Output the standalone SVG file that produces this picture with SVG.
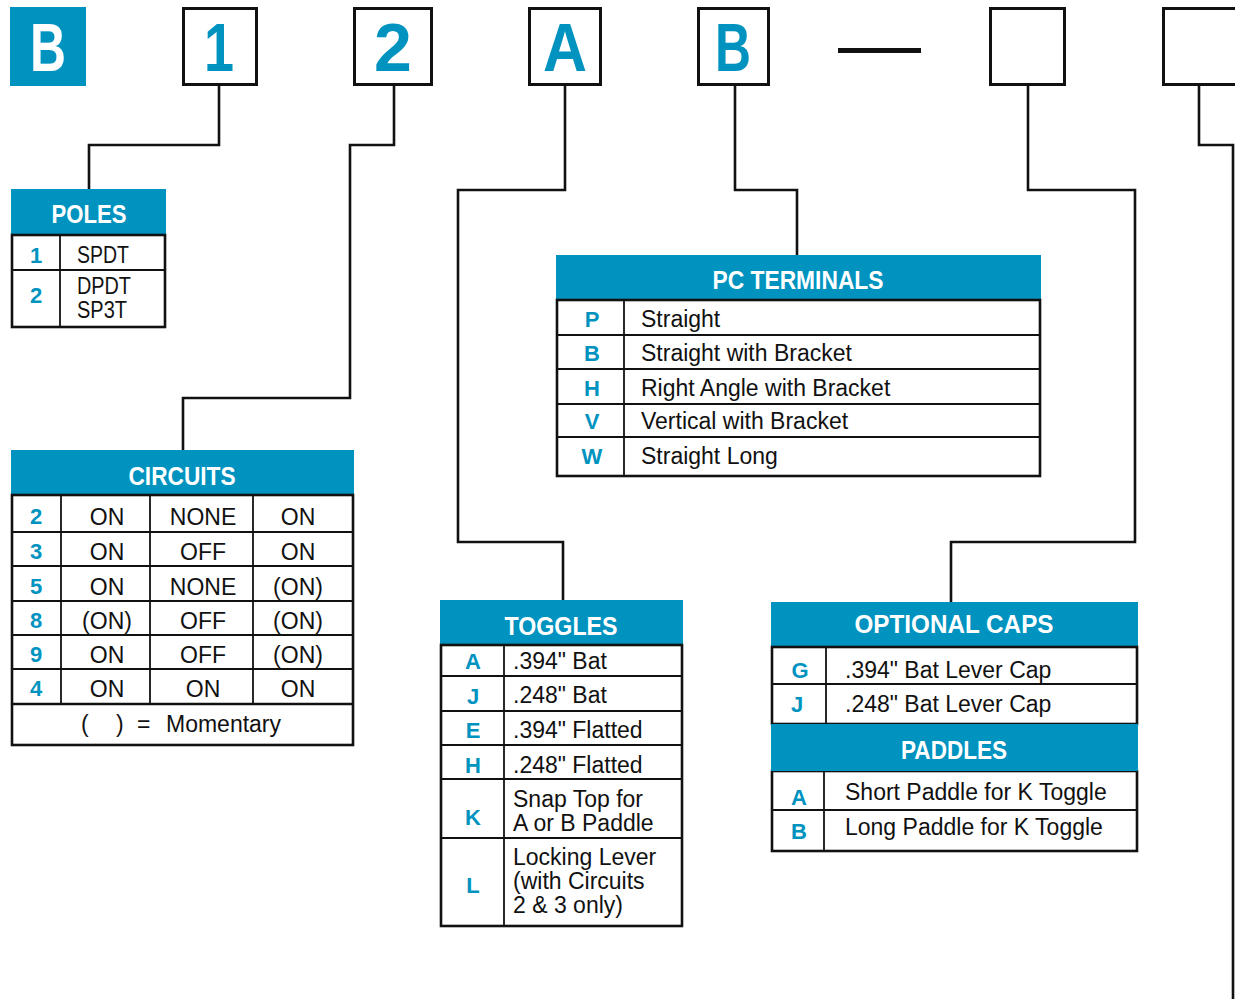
<svg xmlns="http://www.w3.org/2000/svg" width="1235" height="999" viewBox="0 0 1235 999">
<style>
.hdr{fill:#0093c0}
.ht{font-family:"Liberation Sans",Arial,sans-serif;font-weight:bold;font-size:26px;fill:#fff;text-anchor:middle}
.k{font-family:"Liberation Sans",Arial,sans-serif;font-weight:bold;font-size:22px;fill:#0093c0;text-anchor:middle}
.t{font-family:"Liberation Sans",Arial,sans-serif;font-size:23px;fill:#111}
.c{text-anchor:middle}
.body{fill:#fff;stroke:#111;stroke-width:2.6}
.ln{stroke:#111;stroke-width:1.8;fill:none}
.conn{fill:none;stroke:#111;stroke-width:2.6}
.sq{fill:#fff;stroke:#111;stroke-width:3}
.big{font-family:"Liberation Sans",Arial,sans-serif;font-weight:bold;font-size:68px;fill:#0093c0;text-anchor:middle}
</style>
<rect width="1235" height="999" fill="#fff"/>

<g id="connectors">
<path class="conn" d="M219,86 V145 H89 V189"/>
<path class="conn" d="M394,86 V145 H350 V398 H183 V450"/>
<path class="conn" d="M565,86 V190 H458 V542 H563 V600"/>
<path class="conn" d="M735,86 V190 H797 V255"/>
<path class="conn" d="M1028,86 V190 H1135 V542 H951 V602"/>
<path class="conn" d="M1199,86 V145 H1233 V999"/>
</g>

<g id="code-B">
<rect x="10" y="7" width="76" height="79" fill="#0093c0"/>
<text class="big" x="48" y="71" fill="#fff" style="fill:#fff" textLength="36" lengthAdjust="spacingAndGlyphs">B</text>
</g>
<g id="code-1">
<rect class="sq" x="183.5" y="8.5" width="73" height="76"/>
<text class="big" x="219" y="71" textLength="30" lengthAdjust="spacingAndGlyphs">1</text>
</g>
<g id="code-2">
<rect class="sq" x="354.5" y="8.5" width="77" height="76"/>
<text class="big" x="393" y="71">2</text>
</g>
<g id="code-A">
<rect class="sq" x="529.5" y="8.5" width="71" height="76"/>
<text class="big" x="565" y="71" textLength="44" lengthAdjust="spacingAndGlyphs">A</text>
</g>
<g id="code-B2">
<rect class="sq" x="698.5" y="8.5" width="70" height="76"/>
<text class="big" x="733" y="71" textLength="36" lengthAdjust="spacingAndGlyphs">B</text>
</g>
<g id="dash">
<rect x="838" y="48" width="83" height="5" fill="#111"/>
</g>
<g id="code-empty1">
<rect class="sq" x="990.5" y="8.5" width="74" height="76"/>
</g>
<g id="code-empty2">
<rect class="sq" x="1163.5" y="8.5" width="80" height="76"/>
</g>

<g id="poles">
<rect class="hdr" x="11" y="189" width="155" height="46"/>
<text class="ht" x="89" y="223" textLength="75" lengthAdjust="spacingAndGlyphs">POLES</text>
<rect class="body" x="12" y="235" width="153" height="92"/>
<line class="ln" x1="60" y1="235" x2="60" y2="327"/>
<line class="ln" x1="12" y1="270" x2="165" y2="270"/>
<text class="k" x="36" y="263">1</text>
<text class="k" x="36" y="303">2</text>
<text class="t" x="77" y="263" textLength="52" lengthAdjust="spacingAndGlyphs">SPDT</text>
<text class="t" x="77" y="294" textLength="54" lengthAdjust="spacingAndGlyphs">DPDT</text>
<text class="t" x="77" y="318" textLength="50" lengthAdjust="spacingAndGlyphs">SP3T</text>
</g>

<g id="circuits">
<rect class="hdr" x="11" y="450" width="343" height="46"/>
<text class="ht" x="182" y="485" textLength="107" lengthAdjust="spacingAndGlyphs">CIRCUITS</text>
<rect class="body" x="12" y="495" width="341" height="250"/>
<g class="ln">
<line x1="61" y1="495" x2="61" y2="703"/>
<line x1="150" y1="495" x2="150" y2="703"/>
<line x1="253" y1="495" x2="253" y2="703"/>
<line x1="12" y1="532" x2="353" y2="532"/>
<line x1="12" y1="566" x2="353" y2="566"/>
<line x1="12" y1="601" x2="353" y2="601"/>
<line x1="12" y1="635" x2="353" y2="635"/>
<line x1="12" y1="669" x2="353" y2="669"/>
</g>
<line x1="12" y1="704" x2="353" y2="704" stroke="#111" stroke-width="2.6"/>
<text class="k" x="36" y="524">2</text>
<text class="k" x="36" y="559">3</text>
<text class="k" x="36" y="594">5</text>
<text class="k" x="36" y="628">8</text>
<text class="k" x="36" y="662">9</text>
<text class="k" x="36" y="696">4</text>
<g class="t c">
<text x="107" y="525">ON</text><text x="203" y="525">NONE</text><text x="298" y="525">ON</text>
<text x="107" y="560">ON</text><text x="203" y="560">OFF</text><text x="298" y="560">ON</text>
<text x="107" y="595">ON</text><text x="203" y="595">NONE</text><text x="298" y="595">(ON)</text>
<text x="107" y="629">(ON)</text><text x="203" y="629">OFF</text><text x="298" y="629">(ON)</text>
<text x="107" y="663">ON</text><text x="203" y="663">OFF</text><text x="298" y="663">(ON)</text>
<text x="107" y="697">ON</text><text x="203" y="697">ON</text><text x="298" y="697">ON</text>
</g>
<text class="t" y="732"><tspan x="81">(</tspan><tspan x="116">)</tspan><tspan x="137">=</tspan><tspan x="166">Momentary</tspan></text>
</g>

<g id="toggles">
<rect class="hdr" x="440" y="600" width="243" height="46"/>
<text class="ht" x="561" y="635" textLength="113" lengthAdjust="spacingAndGlyphs">TOGGLES</text>
<rect class="body" x="441" y="645" width="241" height="281"/>
<g class="ln">
<line x1="504" y1="645" x2="504" y2="926"/>
<line x1="441" y1="676" x2="682" y2="676"/>
<line x1="441" y1="711" x2="682" y2="711"/>
<line x1="441" y1="745" x2="682" y2="745"/>
<line x1="441" y1="779" x2="682" y2="779"/>
<line x1="441" y1="838" x2="682" y2="838"/>
</g>
<text class="k" x="473" y="669">A</text>
<text class="k" x="473" y="704">J</text>
<text class="k" x="473" y="738">E</text>
<text class="k" x="473" y="773">H</text>
<text class="k" x="473" y="825">K</text>
<text class="k" x="473" y="893">L</text>
<text class="t" x="513" y="669">.394" Bat</text>
<text class="t" x="513" y="703">.248" Bat</text>
<text class="t" x="513" y="738">.394" Flatted</text>
<text class="t" x="513" y="773">.248" Flatted</text>
<text class="t" x="513" y="807">Snap Top for</text>
<text class="t" x="513" y="831">A or B Paddle</text>
<text class="t" x="513" y="865">Locking Lever</text>
<text class="t" x="513" y="889">(with Circuits</text>
<text class="t" x="513" y="913">2 &amp; 3 only)</text>
</g>

<g id="pc-terminals">
<rect class="hdr" x="556" y="255" width="485" height="46"/>
<text class="ht" x="798" y="289" textLength="171" lengthAdjust="spacingAndGlyphs">PC TERMINALS</text>
<rect class="body" x="557" y="300" width="483" height="176"/>
<g class="ln">
<line x1="624" y1="300" x2="624" y2="476"/>
<line x1="557" y1="335" x2="1040" y2="335"/>
<line x1="557" y1="369" x2="1040" y2="369"/>
<line x1="557" y1="404" x2="1040" y2="404"/>
<line x1="557" y1="437" x2="1040" y2="437"/>
</g>
<text class="k" x="592" y="327">P</text>
<text class="k" x="592" y="361">B</text>
<text class="k" x="592" y="396">H</text>
<text class="k" x="592" y="429">V</text>
<text class="k" x="592" y="464">W</text>
<text class="t" x="641" y="327">Straight</text>
<text class="t" x="641" y="361">Straight with Bracket</text>
<text class="t" x="641" y="396">Right Angle with Bracket</text>
<text class="t" x="641" y="429">Vertical with Bracket</text>
<text class="t" x="641" y="464">Straight Long</text>
</g>

<g id="optional-caps">
<rect class="hdr" x="771" y="602" width="367" height="46"/>
<text class="ht" x="954" y="633" textLength="199" lengthAdjust="spacingAndGlyphs">OPTIONAL CAPS</text>
<rect class="body" x="772" y="647" width="365" height="77"/>
<g class="ln">
<line x1="826" y1="647" x2="826" y2="724"/>
<line x1="772" y1="684" x2="1137" y2="684"/>
</g>
<text class="k" x="800" y="678">G</text>
<text class="k" x="797" y="712">J</text>
<text class="t" x="845" y="678">.394" Bat Lever Cap</text>
<text class="t" x="845" y="712">.248" Bat Lever Cap</text>
</g>

<g id="paddles">
<rect class="body" x="772" y="771" width="365" height="80"/>
<rect class="hdr" x="771" y="724" width="367" height="47"/>
<text class="ht" x="954" y="759" textLength="106" lengthAdjust="spacingAndGlyphs">PADDLES</text>
<g class="ln">
<line x1="824" y1="771" x2="824" y2="851"/>
<line x1="772" y1="810" x2="1137" y2="810"/>
</g>
<text class="k" x="799" y="805">A</text>
<text class="k" x="799" y="839">B</text>
<text class="t" x="845" y="800">Short Paddle for K Toggle</text>
<text class="t" x="845" y="835">Long Paddle for K Toggle</text>
</g>
</svg>
